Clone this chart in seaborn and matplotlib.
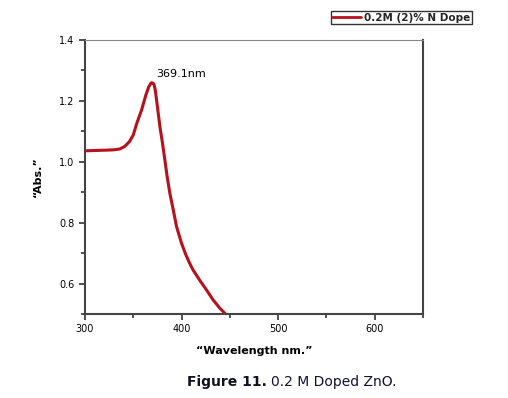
import numpy as np
import pandas as pd
import seaborn as sns
import matplotlib.pyplot as plt
from matplotlib.ticker import MultipleLocator

# values
wavelength = [300, 310, 320, 329, 336, 341, 346, 350, 353.6, 358.6, 363, 366, 368.3, 369.1,
              371.4, 372.8, 374.1, 377.6, 380.3, 382.7, 385.1, 387.9, 391.4, 394.8, 400,
              404, 408, 412, 419, 425.8, 432.7, 439.6, 446.5]
absorbance = [1.036, 1.037, 1.038, 1.039, 1.042, 1.05, 1.066, 1.088, 1.126, 1.17, 1.219, 1.246,
              1.258, 1.26, 1.255, 1.235, 1.203, 1.115, 1.06, 1.006, 0.951, 0.896, 0.842, 0.787,
              0.732, 0.698, 0.669, 0.644, 0.610, 0.579, 0.546, 0.519, 0.497]
peak_label = '369.1nm'
series_name = '0.2M (2)% N Dope'

df = pd.DataFrame({'wl': wavelength, 'abs': absorbance, 'series': series_name})

sns.set_style('ticks')
plt.rcParams['font.family'] = ['DejaVu Sans']

fig = plt.figure(figsize=(5.08, 3.98), dpi=100)
ax = fig.add_axes([0.1673, 0.2111, 0.6654, 0.6884])

sns.lineplot(data=df, x='wl', y='abs', color='#b5121b', linewidth=2.2, ax=ax, legend=False,
             solid_joinstyle='round', solid_capstyle='round')

ax.set_xlim(300, 650)
ax.set_ylim(0.5, 1.4)
ax.xaxis.set_major_locator(MultipleLocator(100))
ax.xaxis.set_minor_locator(MultipleLocator(50))
ax.yaxis.set_major_locator(MultipleLocator(0.2))
ax.yaxis.set_minor_locator(MultipleLocator(0.1))
ax.yaxis.set_major_formatter(plt.FuncFormatter(lambda v, p: '%.1f' % v))
ax.tick_params(which='both', direction='out', labelsize=7, color='#333333', width=1.2,
               labelcolor='black')
ax.tick_params(which='major', length=4)
ax.tick_params(which='minor', length=3)

for side in ['left', 'bottom', 'right']:
    ax.spines[side].set_color('#444444')
    ax.spines[side].set_linewidth(1.5)
ax.spines['top'].set_color('#888888')
ax.spines['top'].set_linewidth(0.8)

ax.set_xlabel('\u201cWavelength nm.\u201d', fontsize=8, fontweight='bold', labelpad=8,
              color='black')
ax.set_ylabel('\u201cAbs.\u201d', fontsize=8, fontweight='bold', labelpad=12, color='black')

pk = int(np.argmax(absorbance))
ax.annotate(peak_label, (wavelength[pk], absorbance[pk]), xytext=(3, 4),
            textcoords='offset points', fontsize=8, color='black')

leg_line = plt.Line2D([], [], color='#b5121b', linewidth=2.0)
fig.legend([leg_line], [series_name], loc='upper right', bbox_to_anchor=(0.94, 0.985),
           frameon=True, fancybox=False, edgecolor='black', handlelength=2.8,
           borderpad=0.15, handletextpad=0.3, prop={'weight': 'bold', 'size': 7.5})

t1 = fig.text(0.368, 0.03, 'Figure 11.', fontsize=10, fontweight='bold', color='#111122')
fig.canvas.draw()
bb = t1.get_window_extent()
fig.text(bb.x1 / fig.bbox.width + 0.008, 0.03, '0.2 M Doped ZnO.', fontsize=10, color='#111133')

fig.savefig('out.png', dpi=100)
